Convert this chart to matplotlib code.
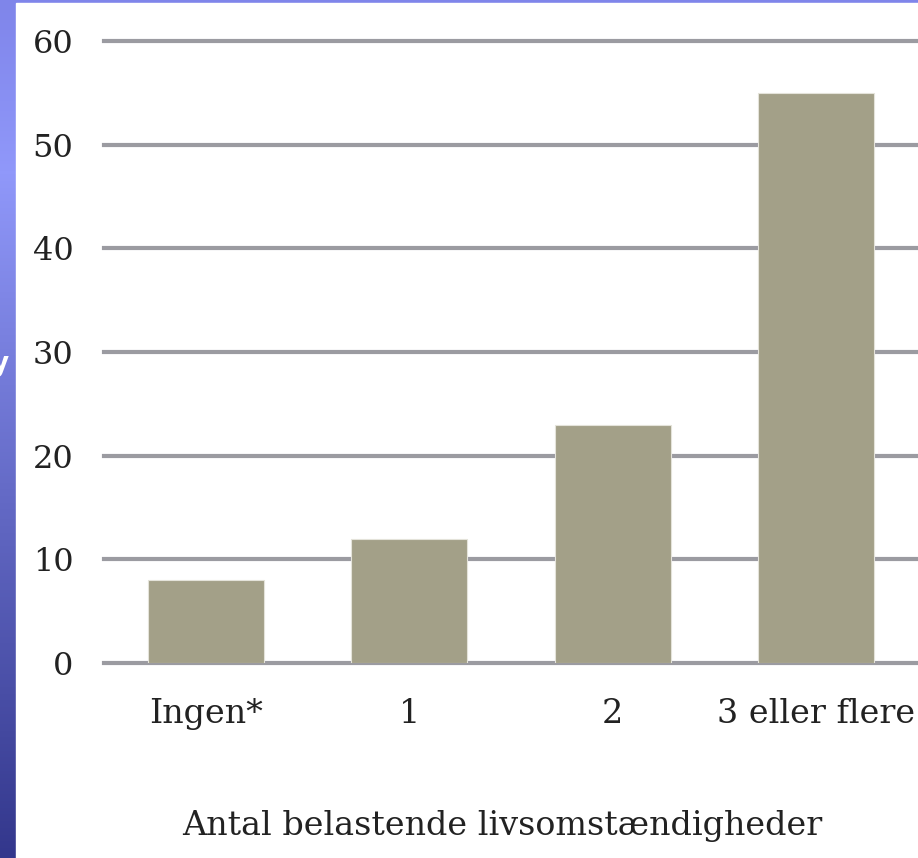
import numpy as np
import matplotlib
matplotlib.use("Agg")
import matplotlib.pyplot as plt
from matplotlib.colors import LinearSegmentedColormap
from matplotlib.patches import Rectangle

categories = ["Ingen*", "1", "2", "3 eller flere"]
values = [8, 12, 23, 55]
yticks = [0, 10, 20, 30, 40, 50, 60]
xlabel = "Antal belastende livsomstændigheder"

W, H = 918, 858
fig = plt.figure(figsize=(W / 100, H / 100), dpi=100)

# background blue gradient + white panel
bg = fig.add_axes([0, 0, 1, 1])
bg.set_axis_off()
cmap = LinearSegmentedColormap.from_list(
    "bg", [(0.0, "#7f85ea"), (0.2, "#9098fa"), (1.0, "#33378c")])
grad = np.linspace(0, 1, 256).reshape(-1, 1)
bg.imshow(grad, aspect="auto", cmap=cmap, extent=[0, 1, 0, 1], origin="upper")
bg.add_patch(Rectangle((16 / W, 0), 1 - 16 / W, 1 - 3 / H, color="white",
                       transform=bg.transAxes, zorder=2))
bg.set_xlim(0, 1)
bg.set_ylim(0, 1)
# partially hidden letter from the slide behind the chart
fig.text(-0.009, 1 - 364 / H, "y", color="white", fontsize=19,
         fontweight="bold", ha="left", va="center")

serif = ["DejaVu Serif"]
left = 104 / W
bottom = 1 - 663 / H
top = 1 - 41 / H
ax = fig.add_axes([left, bottom, 1 - left, top - bottom])
ax.set_facecolor("none")
x = np.arange(len(categories))
ax.bar(x, values, width=0.57, color="#a3a088", edgecolor="#e4e3da",
       linewidth=0.8, zorder=3)
ax.set_xlim(-0.5, 3.5)
ax.set_ylim(0, 60)
for yv in yticks:
    ax.axhline(yv, color="#9b9ba1", linewidth=3, zorder=1, clip_on=False)
for s in ax.spines.values():
    s.set_visible(False)
ax.set_yticks(yticks)
ax.set_yticklabels([str(v) for v in yticks], fontfamily=serif, fontsize=23,
                   color="#222222")
ax.set_xticks(x)
ax.set_xticklabels(categories, fontfamily=serif, fontsize=24, color="#222222")
ax.tick_params(axis="y", length=0, pad=22)
ax.tick_params(axis="x", length=0, pad=25)

fig.text((183 + 822) / 2 / W, 1 - 826 / H, xlabel, ha="center", va="center",
         fontfamily=serif, fontsize=24, color="#222222")

fig.savefig("out.png", dpi=100)
